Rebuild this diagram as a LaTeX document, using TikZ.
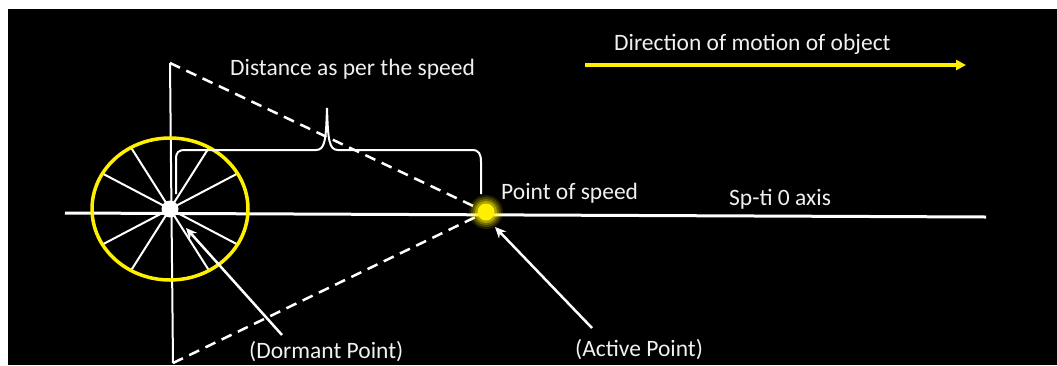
\documentclass[tikz,border=0pt]{standalone}
\usepackage{fontspec}
\setmainfont{Carlito}
\usetikzlibrary{arrows.meta}
\definecolor{wheelyellow}{RGB}{255,240,0}
\definecolor{txtwhite}{RGB}{240,240,240}
\begin{document}
\begin{tikzpicture}[x=1pt,y=-1pt,
  lbl/.style={text=txtwhite, font=\fontsize{23.5}{26}\selectfont, inner sep=0pt},
  thin line/.style={draw=white, line width=2pt},
  dash line/.style={draw=white, line width=2.5pt, dash pattern=on 11pt off 7pt},
  pointer/.style={draw=white, line width=2.5pt, -{Stealth[length=11pt,width=10pt]}},
  yarrow/.style={draw=wheelyellow, line width=3.5pt, -{Triangle[length=10pt,width=10pt]}}]
\useasboundingbox (0,0) rectangle (1057,365);
\fill[white] (0,0) rectangle (1057,365);
\fill[black] (8,9) rectangle (1057,365);

% key points
\coordinate (C) at (170,209);
\coordinate (vtop) at (170,63);
\coordinate (vbot) at (173,363);
\coordinate (axL) at (65,213);
\coordinate (axR) at (986,217);
\coordinate (P) at (486,212);

% vertical line and axis
\draw[thin line] (vtop) -- (vbot);
\draw[draw=white, line width=3pt] (axL) -- (axR);

% spokes
\foreach \a in {30,60,120,150,210,240,300,330}
  \draw[thin line] (C) -- ++(\a:78 and 71);
% wheel
\draw[draw=wheelyellow, line width=3.5pt] (C) ellipse (78 and 71);
\fill[white] (C) circle (8.5);

% dashed lines
\draw[dash line] (vtop) -- (P);
\draw[dash line] (vbot) -- (P);

% brace
\draw[thin line] (176,194) -- (176,160) .. controls (176,152) and (178,150) .. (186,150)
  -- (316,150) .. controls (325,150) and (326,140) .. (327,108)
  .. controls (328,140) and (329,150) .. (338,150)
  -- (472,150) .. controls (479,150) and (481,154) .. (481,162) -- (481,194);

% point of speed
\foreach \r/\o in {17/0.12,15/0.18,13/0.25,11/0.4}
  \fill[wheelyellow, opacity=\o] (P) circle (\r);
\fill[wheelyellow] (P) circle (8.5);

% direction arrow
\coordinate (dirA) at (585,65);
\coordinate (dirB) at (966,65);
\draw[yarrow] (dirA) -- (dirB);

% labels
\node[lbl, anchor=west] (dist) at (230,69) {Distance as per the speed};
\node[lbl, anchor=west] (dir) at (614,44) {Direction of motion of object};
\node[lbl, anchor=west] (pos) at (501,193) {Point of speed};
\node[lbl, anchor=west] (axis) at (729,199) {Sp-ti 0 axis};
\node[lbl, anchor=west] (dorm) at (249,352) {(Dormant Point)};
\node[lbl, anchor=west] (act) at (575,350) {(Active Point)};

% pointers
\coordinate (dormtail) at (282,335);
\coordinate (dormhead) at (186,228);
\coordinate (acttail) at (592,328);
\coordinate (acthead) at (495,227);
\draw[pointer] (dormtail) -- (dormhead);
\draw[pointer] (acttail) -- (acthead);
\end{tikzpicture}
\end{document}
